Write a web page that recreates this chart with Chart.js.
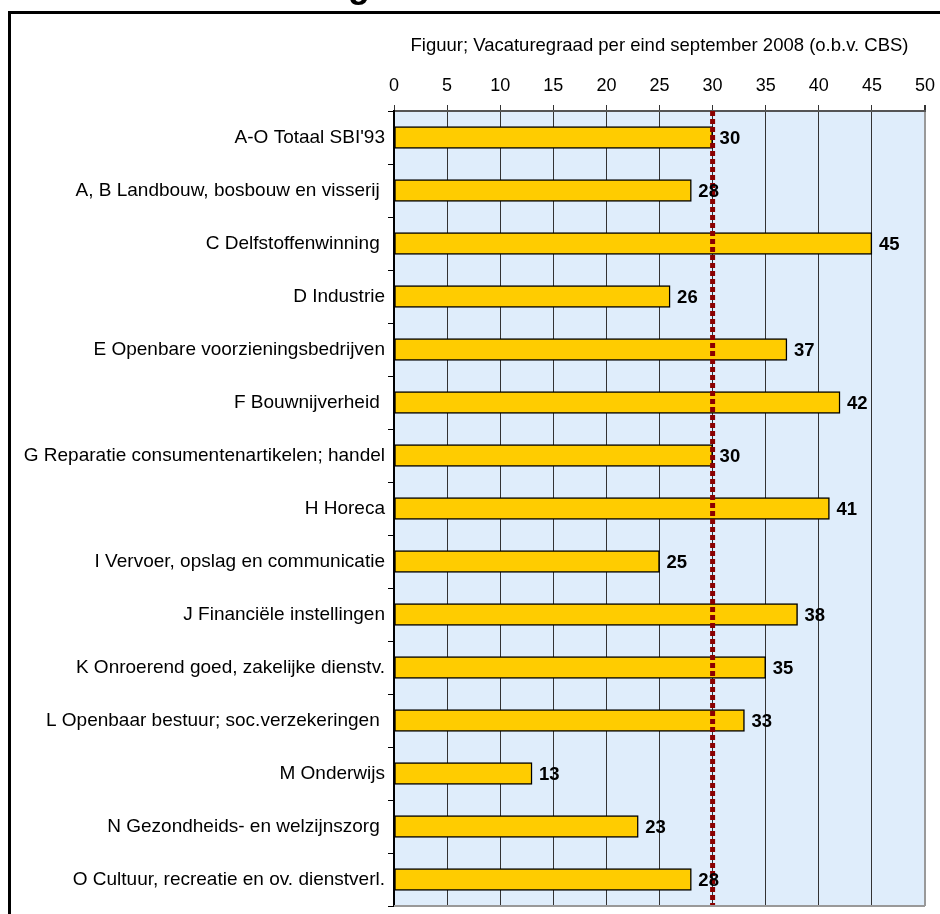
<!DOCTYPE html>
<html>
<head>
<meta charset="utf-8">
<script src="https://cdn.jsdelivr.net/npm/chart.js@4"></script>
<style>
  body { margin: 0; background: #fff; overflow: hidden; }
  #frame { position: absolute; left: 8px; top: 11px; width: 940px; height: 920px;
           border-top: 3px solid #000; border-left: 3px solid #000; }
  #wrap { position: absolute; left: 0; top: 0; width: 940px; height: 914px; }
</style>
</head>
<body>
<div id="frame"></div>
<div id="wrap"><canvas id="chart" width="940" height="914"></canvas></div>
<script>
// Sectoren (SBI'93) en vacaturegraad
const sectoren = [
    "A-O Totaal SBI'93",
    "A, B Landbouw, bosbouw en visserij ",
    "C Delfstoffenwinning ",
    "D Industrie",
    "E Openbare voorzieningsbedrijven",
    "F Bouwnijverheid ",
    "G Reparatie consumentenartikelen; handel",
    "H Horeca",
    "I Vervoer, opslag en communicatie",
    "J Financiële instellingen",
    "K Onroerend goed, zakelijke dienstv.",
    "L Openbaar bestuur; soc.verzekeringen ",
    "M Onderwijs",
    "N Gezondheids- en welzijnszorg ",
    "O Cultuur, recreatie en ov. dienstverl."
];
const vacaturegraad = [30, 28, 45, 26, 37, 42, 30, 41, 25, 38, 35, 33, 13, 23, 28];
const gemiddelde = 30;
const xTicks = [0, 5, 10, 15, 20, 25, 30, 35, 40, 45, 50];
const titel = 'Figuur; Vacaturegraad per eind september 2008 (o.b.v. CBS)';

const FONT = "Arial, 'Liberation Sans', sans-serif";

// achtergrond van het plotgebied + randen
const achtergrond = {
    id: 'achtergrond',
    beforeDraw(chart) {
        const { ctx, chartArea: a } = chart;
        ctx.save();
        ctx.fillStyle = '#dfedfb';
        ctx.fillRect(a.left, a.top, a.right - a.left, a.bottom - a.top);
        ctx.restore();
    },
    afterDraw(chart) {
        const { ctx, chartArea: a } = chart;
        ctx.save();
        ctx.strokeStyle = '#999';
        ctx.lineWidth = 2;
        ctx.beginPath();
        ctx.moveTo(a.left, a.bottom);
        ctx.lineTo(a.right, a.bottom);
        ctx.stroke();
        // restje van de grote kop boven de figuur
        ctx.fillStyle = '#000';
        ctx.font = 'bold 36px ' + FONT;
        ctx.textAlign = 'center';
        ctx.textBaseline = 'alphabetic';
        ctx.fillText('g', 359, -3);
        ctx.restore();
    }
};

// gemiddelde lijn + waardelabels
const labels = {
    id: 'labels',
    afterDatasetsDraw(chart) {
        const { ctx, chartArea: a } = chart;
        const x30 = chart.scales.x.getPixelForValue(gemiddelde);
        ctx.save();
        ctx.strokeStyle = '#8b0000';
        ctx.lineWidth = 5;
        ctx.setLineDash([5, 3]);
        ctx.beginPath();
        ctx.moveTo(x30, a.top);
        ctx.lineTo(x30, a.bottom);
        ctx.stroke();
        ctx.setLineDash([]);

        ctx.fillStyle = '#000';
        ctx.font = 'bold 18.5px ' + FONT;
        ctx.textAlign = 'left';
        ctx.textBaseline = 'middle';
        chart.getDatasetMeta(0).data.forEach((bar, i) => {
            ctx.fillText(String(vacaturegraad[i]), bar.x + 7, bar.y + 1);
        });
        ctx.restore();
    }
};

new Chart(document.getElementById('chart'), {
    type: 'bar',
    data: {
        labels: sectoren,
        datasets: [{
            data: vacaturegraad,
            backgroundColor: '#ffcc00',
            borderColor: '#000',
            borderWidth: 1.5,
            borderSkipped: false,
            barThickness: 22
        }]
    },
    options: {
        indexAxis: 'y',
        responsive: false,
        animation: false,
        devicePixelRatio: 1,
        layout: { padding: { top: 0, right: 15, bottom: 8, left: 0 } },
        plugins: {
            legend: { display: false },
            tooltip: { enabled: false }
        },
        scales: {
            x: {
                position: 'top',
                min: 0,
                max: 50,
                afterBuildTicks: (scale) => {
                    scale.ticks = xTicks.map(v => ({ value: v }));
                },
                afterFit: (scale) => {
                    scale.height = 111;
                    scale.paddingLeft = 0;
                    scale.paddingRight = 0;
                },
                ticks: {
                    color: '#000',
                    font: { family: FONT, size: 18 },
                    padding: 8
                },
                grid: {
                    color: (c) => c.tick && c.tick.value === 50 ? '#999' : '#333',
                    lineWidth: (c) => c.tick && c.tick.value === 50 ? 2 : 1,
                    tickColor: '#333',
                    tickLength: 6
                },
                border: { color: '#555', width: 2 },
                title: {
                    display: true,
                    text: titel,
                    color: '#000',
                    font: { family: FONT, size: 18.5 },
                    padding: { top: 35, bottom: 0 }
                }
            },
            y: {
                afterFit: (scale) => {
                    scale.width = 394;
                    scale.paddingTop = 0;
                    scale.paddingBottom = 0;
                },
                ticks: {
                    color: '#000',
                    font: { family: FONT, size: 19 },
                    padding: 3
                },
                grid: {
                    offset: true,
                    drawOnChartArea: false,
                    tickColor: '#000',
                    tickLength: 6
                },
                border: { color: '#000', width: 2 }
            }
        }
    },
    plugins: [achtergrond, labels]
});
</script>
</body>
</html>
